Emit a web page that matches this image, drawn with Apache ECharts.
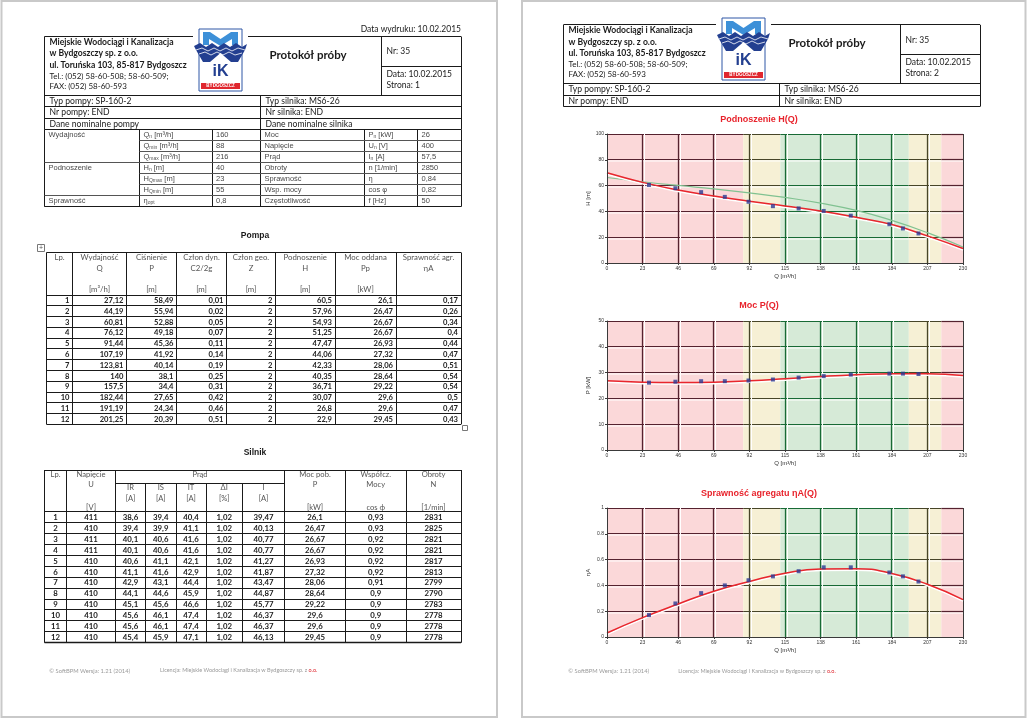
<!DOCTYPE html>
<html><head><meta charset="utf-8">
<script src="https://cdn.jsdelivr.net/npm/echarts@6/dist/echarts.min.js"></script>
<style>html,body{margin:0;padding:0;background:#fff}#c{width:1028px;height:719px}</style>
</head><body><div id="c"></div>
<script>
// ================= DATA =================
const pumpLp  = [1,2,3,4,5,6,7,8,9,10,11,12];
const pumpQ   = [27.12,44.19,60.81,76.12,91.44,107.19,123.81,140,157.5,182.44,191.19,201.25];
const pumpP   = [58.49,55.94,52.88,49.18,45.36,41.92,40.14,38.1,34.4,27.65,24.34,20.39];
const pumpC   = [0.01,0.02,0.05,0.07,0.11,0.14,0.19,0.25,0.31,0.42,0.46,0.51];
const pumpZ   = [2,2,2,2,2,2,2,2,2,2,2,2];
const pumpH   = [60.5,57.96,54.93,51.25,47.47,44.06,42.33,40.35,36.71,30.07,26.8,22.9];
const pumpPp  = [26.1,26.47,26.67,26.67,26.93,27.32,28.06,28.64,29.22,29.6,29.6,29.45];
const pumpEta = [0.17,0.26,0.34,0.4,0.44,0.47,0.51,0.54,0.54,0.5,0.47,0.43];

const motorU   = [411,410,411,411,410,410,410,410,410,410,410,410];
const motorIR  = [38.6,39.4,40.1,40.1,40.6,41.1,42.9,44.1,45.1,45.6,45.6,45.4];
const motorIS  = [39.4,39.9,40.6,40.6,41.1,41.6,43.1,44.6,45.6,46.1,46.1,45.9];
const motorIT  = [40.4,41.1,41.6,41.6,42.1,42.9,44.4,45.9,46.6,47.4,47.4,47.1];
const motorDI  = [1.02,1.02,1.02,1.02,1.02,1.02,1.02,1.02,1.02,1.02,1.02,1.02];
const motorI   = [39.47,40.13,40.77,40.77,41.27,41.87,43.47,44.87,45.77,46.37,46.37,46.13];
const motorP   = [26.1,26.47,26.67,26.67,26.93,27.32,28.06,28.64,29.22,29.6,29.6,29.45];
const motorCos = [0.93,0.93,0.92,0.92,0.92,0.92,0.91,0.9,0.9,0.9,0.9,0.9];
const motorN   = [2831,2825,2821,2821,2817,2813,2799,2790,2783,2778,2778,2778];

const nomPumpLabel = ['Wydajność','','','Podnoszenie','','','Sprawność'];
const nomPumpSym   = ['Q{s|n} [m³/h]','Q{s|min} [m³/h]','Q{s|max} [m³/h]','H{s|n} [m]','H{s|Qmax} [m]','H{s|Qmin} [m]','η{s|opt}'];
const nomPumpVal   = ['160','88','216','40','23','55','0,8'];
const nomMotorLabel= ['Moc','Napięcie','Prąd','Obroty','Sprawność','Wsp. mocy','Częstotliwość'];
const nomMotorSym  = ['P{s|n} [kW]','U{s|n} [V]','I{s|n} [A]','n [1/min]','η','cos φ','f [Hz]'];
const nomMotorVal  = ['26','400','57,5','2850','0,84','0,82','50'];

const pumpHead = [['Lp.','',''],['Wydajność','Q','[m³/h]'],['Ciśnienie','P','[m]'],['Człon dyn.','C2/2g','[m]'],
  ['Człon geo.','Z','[m]'],['Podnoszenie','H','[m]'],['Moc oddana','Pp','[kW]'],['Sprawność agr.','ηA','']];
const motorHead = [['Lp.','',''],['Napięcie','U','[V]'],['Moc pob.','P','[kW]'],['Współcz.','Mocy','cos ϕ'],['Obroty','N','[1/min]']];
const motorSubHead = [['IR','[A]'],['IS','[A]'],['IT','[A]'],['ΔI','[%]'],['I','[A]']];

// chart data (at the axis ticks)
const qTicks   = [0,23,46,69,92,115,138,161,184,207,230];
const hFit     = [69.9,62.5,56.6,52.0,47.9,44.2,40.3,35.4,29.8,21.0,11.2];
const hNominal = [66.3,63.0,60.1,57.5,54.4,50.8,46.4,40.8,33.0,23.5,12.4];
const pFit     = [26.8,26.3,26.2,26.3,26.8,27.6,28.5,29.2,29.6,29.6,28.9];
const etaFit   = [0.031,0.150,0.256,0.355,0.430,0.495,0.528,0.530,0.492,0.409,0.290];
const zones    = [[0,88,0],[88,112,1],[112,195,2],[195,216,1],[216,230,0]];
const chartTitles = ['Podnoszenie H(Q)','Moc P(Q)','Sprawność agregatu ηA(Q)'];
const yNames = ['H [m]','P [kW]','ηA'];
const xName = 'Q [m³/h]';
const yMax = [100,50,1];
const yStep = [20,10,0.2];

// ================= DRAWING =================
const FONT = "Lato, 'Open Sans', sans-serif";
const ARIAL = "'Liberation Sans', Arial, sans-serif";
const G = [];
const fmt = v => String(v).replace('.', ',');
function txt(x,y,s,o){ o=o||{}; const st={text:s, fill:o.c||'#1a1a1a', fontSize:o.s||8, fontFamily:o.f||FONT,
    fontWeight:o.w||'normal', align:o.a||'left', textAlign:o.a||'left', verticalAlign:'middle', textVerticalAlign:'middle'};
  if(o.rich) st.rich=o.rich;
  G.push({type:'text', x:x, y:y, silent:true, z:20, style:st}); }
function cr(v){ return Math.round(v-0.5)+0.5; }
function ln(x1,y1,x2,y2,c,w){ if(x1===x2){x1=x2=cr(x1);} if(y1===y2){y1=y2=cr(y1);}
  G.push({type:'line', silent:true, z:15, shape:{x1:x1,y1:y1,x2:x2,y2:y2}, style:{stroke:c||'#1a1a1a', lineWidth:w||1}}); }

// pages
G.push({type:'rect', silent:true, z:1, shape:{x:1.5,y:1,width:495.5,height:716}, style:{fill:'#fff', stroke:'#c9c9c9', lineWidth:2}});
G.push({type:'rect', silent:true, z:1, shape:{x:522,y:1,width:503.5,height:716}, style:{fill:'#fff', stroke:'#c9c9c9', lineWidth:2}});

function logo(x,y){
  const P=(pts)=>pts.map(p=>[p[0]+x,p[1]+y]);
  G.push({type:'rect', silent:true, z:16, shape:{x:x,y:y,width:43,height:62}, style:{fill:'#fff', stroke:'#2f56a6', lineWidth:1}});
  G.push({type:'polygon', silent:true, z:17, shape:{points:P([[4,16],[4,3],[11,3],[21.5,10],[32,3],[39,3],[39,16],[33,16],[33,10],[21.5,17],[10,10],[10,16]])}, style:{fill:'#3d90d8'}});
  G.push({type:'polygon', silent:true, z:17, shape:{points:P([[-5,17],[1,14],[7,18],[13,14],[19,18],[25,14],[31,18],[37,14],[43,18],[48,15],[46,21],[39,33],[32,33],[21.5,24],[11,33],[4,33],[-3,21]])}, style:{fill:'#233f90'}});
  G.push({type:'polyline', silent:true, z:18, shape:{points:P([[-3,21],[3,19],[9,22],[15,19],[21,22],[27,19],[33,22],[39,19],[46,21]])}, style:{stroke:'#fff', lineWidth:0.8}});
  G.push({type:'polyline', silent:true, z:18, shape:{points:P([[0,25],[6,23],[12,26],[18,23],[24,26],[30,23],[36,26],[43,24]])}, style:{stroke:'#fff', lineWidth:0.8}});
  txt(x+21.5, y+43, 'iK', {s:16, w:'bold', f:ARIAL, a:'center', c:'#233f90'});
  G.push({type:'rect', silent:true, z:17, shape:{x:x+2,y:y+54,width:39,height:6}, style:{fill:'#e0262e'}});
  txt(x+21.5, y+57, 'BYDGOSZCZ', {s:4.5, w:'bold', f:ARIAL, a:'center', c:'#fff'});
}

function header(dx,dy,page,lx,ly,bottomExtra){
  const x0=44.5+dx, x1=461+dx, y0=36.5+dy, y1=95+dy, dvx=381.5+dx, my=66+dy, mx=260.5+dx;
  const r1=y1+11.7, r2=y1+23.3, yb=r2+bottomExtra;
  ln(x0,y0,lx-6,y0); ln(lx+49,y0,x1,y0);
  ln(x0,y0,x0,yb); ln(x1,y0,x1,yb);
  ln(dvx,y0,dvx,y1); ln(dvx,my,x1,my);
  ln(x0,y1,x1,y1); ln(x0,r1,x1,r1); ln(x0,r2,x1,r2);
  ln(mx,y1,mx,yb);
  logo(lx,ly);
  const comp=['Miejskie Wodociągi i Kanalizacja','w Bydgoszczy sp. z o.o.','ul. Toruńska 103, 85-817 Bydgoszcz','Tel.: (052) 58-60-508; 58-60-509;','FAX: (052) 58-60-593'];
  const cy=[42.3,53.5,65,76.5,86.2];
  comp.forEach((s,i)=>txt(x0+5, cy[i]+dy, s, {s:i<3?8.6:8, w:i<3?'bold':'normal'}));
  txt(308+dx, 55+dy, 'Protokół próby', {s:11.5, w:'bold', a:'center'});
  txt(dvx+5, 51.7+dy, 'Nr: 35', {s:8.5});
  txt(dvx+5, 74+dy, 'Data: 10.02.2015', {s:8.5});
  txt(dvx+5, 85.3+dy, 'Strona: '+page, {s:8.5});
  txt(x0+5, y1+6, 'Typ pompy: SP-160-2', {s:8.6});
  txt(mx+5, y1+6, 'Typ silnika: MS6-26', {s:8.6});
  txt(x0+5, r1+6, 'Nr pompy: END', {s:8.6});
  txt(mx+5, r1+6, 'Nr silnika: END', {s:8.6});
}

// ---- left page ----
txt(461, 29.3, 'Data wydruku: 10.02.2015', {s:8.5, a:'right'});
header(0,0,1,199,29,11);
txt(49.5, 124, 'Dane nominalne pompy', {s:8.6});
txt(265.5, 124, 'Dane nominalne silnika', {s:8.6});
ln(44.5,129.3,461,129.3);
const NC=[44.5,139.5,212,260.5,364.5,417.5,461];
const NT=129.3, NR=11.06;
NC.forEach(x=>ln(x,NT,x,NT+7*NR));
for(let j=1;j<7;j++){ const y=NT+j*NR; ln(NC[1],y,NC[6],y,'#555'); if(j===3||j===6) ln(NC[0],y,NC[1],y,'#555'); }
ln(NC[0],NT+7*NR,NC[6],NT+7*NR);
const subRich={s:{fontSize:5, fill:'#555', fontFamily:ARIAL, verticalAlign:'bottom', padding:[3,0,0,0]}};
for(let i=0;i<7;i++){
  const y=NT+i*NR+5.7, o={s:7.5, c:'#4a4a4a', f:ARIAL, rich:subRich};
  txt(NC[0]+4,y,nomPumpLabel[i],o); txt(NC[1]+4,y,nomPumpSym[i],o); txt(NC[2]+4,y,nomPumpVal[i],o);
  txt(NC[3]+4,y,nomMotorLabel[i],o); txt(NC[4]+4,y,nomMotorSym[i],o); txt(NC[5]+4,y,nomMotorVal[i],o);
}

// Pompa table
txt(255, 235.7, 'Pompa', {s:8.5, w:'bold', a:'center', f:ARIAL});
G.push({type:'rect', silent:true, z:15, shape:{x:37.5,y:244.5,width:7,height:7}, style:{fill:'#fff', stroke:'#777', lineWidth:1}});
txt(41, 248, '+', {s:7, a:'center', c:'#555', f:ARIAL});
const PC=[46.5,72.5,126.5,176.5,226.5,275.5,335,396,461];
const PT=252.5, PH=295, PR=10.78, PB=PH+12*PR;
PC.forEach(x=>ln(x,PT,x,PB));
ln(PC[0],PT,PC[8],PT); ln(PC[0],PH,PC[8],PH);
for(let j=1;j<=12;j++) ln(PC[0],PH+j*PR,PC[8],PH+j*PR);
pumpHead.forEach((h,i)=>{ const cx=(PC[i]+PC[i+1])/2;
  txt(cx,257.7,h[0],{s:7.8,c:'#555',a:'center'}); txt(cx,268.3,h[1],{s:7.8,c:'#555',a:'center'}); txt(cx,289,h[2],{s:7.8,c:'#555',a:'center'}); });
const pumpCols=[pumpLp,pumpQ,pumpP,pumpC,pumpZ,pumpH,pumpPp,pumpEta];
pumpCols.forEach((col,i)=>col.forEach((v,r)=>txt(PC[i+1]-3, PH+r*PR+5.6, fmt(v), {s:7.6, w:'bold', a:'right', c:'#222'})));
G.push({type:'rect', silent:true, z:15, shape:{x:462.5,y:425.5,width:5,height:5}, style:{fill:'#fff', stroke:'#777', lineWidth:1}});

// Silnik table
txt(255, 452.7, 'Silnik', {s:8.5, w:'bold', a:'center', f:ARIAL});
const SC=[44.5,66.5,115.5,145.5,176,206,242.5,284.5,345.5,406,461];
const ST=470, SS=483.3, SH=511.7, SR=10.92, SB=SH+12*SR;
[0,1,2,7,8,9,10].forEach(i=>ln(SC[i],ST,SC[i],SB));
[3,4,5,6].forEach(i=>ln(SC[i],SS,SC[i],SB));
ln(SC[0],ST,SC[10],ST); ln(SC[2],SS,SC[7],SS); ln(SC[0],SH,SC[10],SH);
for(let j=1;j<=12;j++) ln(SC[0],SH+j*SR,SC[10],SH+j*SR, '#1a1a1a', j===12?1.5:1);
const mh=[[0,1],[1,2],[7,8],[8,9],[9,10]];
motorHead.forEach((h,k)=>{ const cx=(SC[mh[k][0]]+SC[mh[k][1]])/2;
  txt(cx,474.3,h[0],{s:7.6,c:'#555',a:'center'}); txt(cx,485,h[1],{s:7.6,c:'#555',a:'center'}); txt(cx,507.3,h[2],{s:7.6,c:'#555',a:'center'}); });
txt((SC[2]+SC[7])/2,474.3,'Prąd',{s:7.6,c:'#555',a:'center'});
motorSubHead.forEach((h,k)=>{ const cx=(SC[2+k]+SC[3+k])/2;
  txt(cx,487.7,h[0],{s:7.6,c:'#555',a:'center'}); txt(cx,498.3,h[1],{s:7.6,c:'#555',a:'center'}); });
const motorCols=[pumpLp,motorU,motorIR,motorIS,motorIT,motorDI,motorI,motorP,motorCos,motorN];
motorCols.forEach((col,i)=>col.forEach((v,r)=>txt((SC[i]+SC[i+1])/2, SH+r*SR+5.7, fmt(v), {s:7.8, w:'bold', a:'center', c:'#222'})));

// footers
const footRich={r:{fill:'#e0262e', fontSize:5.5, fontFamily:FONT}};
txt(49.3, 670.7, '© SoftBPM Wersja: 1.21 (2014)', {s:5.8, c:'#9a9a9a'});
txt(160, 670.7, 'Licencja: Miejskie Wodociągi i Kanalizacja w Bydgoszczy sp. z {r|o.o.}', {s:5.5, c:'#9a9a9a', rich:footRich});
txt(568.3, 671, '© SoftBPM Wersja: 1.21 (2014)', {s:5.8, c:'#9a9a9a'});
txt(678.3, 671, 'Licencja: Miejskie Wodociągi i Kanalizacja w Bydgoszczy sp. z {r|o.o.}', {s:5.5, c:'#9a9a9a', rich:footRich});

// ---- right page ----
header(519,-11.7,2,722,18,0);
const titleY=[120,306,494];
chartTitles.forEach((t,k)=>txt(759, titleY[k], t, {s:9, w:'bold', a:'center', c:'#e8232c', f:ARIAL}));

// ================= CHARTS =================
const ZONE_FILL=['#fbd8d9','#f6f0d5','#d6ead7'];
const ZONE_LINE=['#55222f','#474528','#186a35'];
function zoneRender(k){
  return function(params, api){
    const s=api.value(0), e=api.value(1), t=api.value(2);
    const tl=api.coord([s,yMax[k]]), br=api.coord([e,0]);
    const ch=[{type:'rect', shape:{x:tl[0], y:tl[1], width:br[0]-tl[0], height:br[1]-tl[1]}, style:{fill:ZONE_FILL[t]}}];
    const lc=ZONE_LINE[t];
    const L=(x1,y1,x2,y2,c,w)=>ch.push({type:'line', shape:{x1:x1,y1:y1,x2:x2,y2:y2}, style:{stroke:c, lineWidth:w||1}});
    for(let j=1;j*yStep[k]<yMax[k]-1e-9;j++){
      const p=api.coord([s,j*yStep[k]]), q=api.coord([e,j*yStep[k]]); const y=cr(p[1]);
      L(p[0],y+1.5,q[0],y+1.5,'#ffffff'); L(p[0],y,q[0],y,lc,1.2);
    }
    const yt=cr(tl[1]);
    L(tl[0],yt,br[0],yt,lc,1.2);
    qTicks.forEach(x=>{ if(x>s+1e-9 && x<e-1e-9 || (x===s && x>0)){ const p=api.coord([x,0]); const xx=cr(p[0]);
      L(xx+2,tl[1],xx+2,br[1],'#ffffff'); L(xx,tl[1],xx,br[1],lc,1.3); }});
    if(e>=230){ const xx=cr(br[0]); L(xx,tl[1],xx,br[1],'#3a3a3a'); }
    return {type:'group', children:ch};
  };
}

const gridTops=[134,321,508];
const grids=[], xAxes=[], yAxes=[], series=[];
const fits=[hFit,pFit,etaFit];
const pts=[pumpH,pumpPp,pumpEta];
for(let k=0;k<3;k++){
  grids.push({left:607, top:gridTops[k], width:356, height:129});
  xAxes.push({gridIndex:k, type:'value', min:0, max:230, interval:23, z:10,
    splitLine:{show:false}, axisLine:{show:true, lineStyle:{color:'#3a3a3a', width:1}},
    axisTick:{show:true, length:2, lineStyle:{color:'#3a3a3a'}},
    axisLabel:{fontSize:5, color:'#333', margin:3, fontFamily:ARIAL},
    name:xName, nameLocation:'middle', nameGap:10, nameTextStyle:{fontSize:6, color:'#333', fontFamily:ARIAL}});
  yAxes.push({gridIndex:k, type:'value', min:0, max:yMax[k], interval:yStep[k], z:10,
    splitLine:{show:false}, axisLine:{show:true, lineStyle:{color:'#3a3a3a', width:1}},
    axisTick:{show:true, length:2, lineStyle:{color:'#3a3a3a'}},
    axisLabel:{fontSize:5, color:'#333', margin:3, fontFamily:ARIAL},
    name:yNames[k], nameLocation:'middle', nameGap:16, nameRotate:90, nameTextStyle:{fontSize:6, color:'#333', fontFamily:ARIAL}});
  series.push({type:'custom', xAxisIndex:k, yAxisIndex:k, silent:true, z:1, data:zones,
    dimensions:['s','e','t'], encode:{x:[0,1], y:2}, renderItem:zoneRender(k)});
  if(k===0){
    series.push({type:'line', xAxisIndex:0, yAxisIndex:0, silent:true, z:3, smooth:true, showSymbol:false,
      data:qTicks.map((q,i)=>[q,hNominal[i]]), lineStyle:{color:'#80c291', width:1.2}});
  }
  series.push({type:'line', xAxisIndex:k, yAxisIndex:k, silent:true, z:4, smooth:true, showSymbol:false,
    data:qTicks.map((q,i)=>[q,fits[k][i]]), lineStyle:{color:'#e8262d', width:1.5, shadowColor:'#ffffff', shadowOffsetY:1.5, shadowBlur:0}});
  series.push({type:'scatter', xAxisIndex:k, yAxisIndex:k, silent:true, z:5, symbol:'rect', symbolSize:4,
    data:pumpQ.map((q,i)=>[q,pts[k][i]]), itemStyle:{color:'#2b3a92'}});
}

const chart = echarts.init(document.getElementById('c'), null, {renderer:'canvas', width:1028, height:719});
chart.setOption({animation:false, backgroundColor:'#fff', grid:grids, xAxis:xAxes, yAxis:yAxes, series:series,
  graphic:{elements:G}});
</script></body></html>
